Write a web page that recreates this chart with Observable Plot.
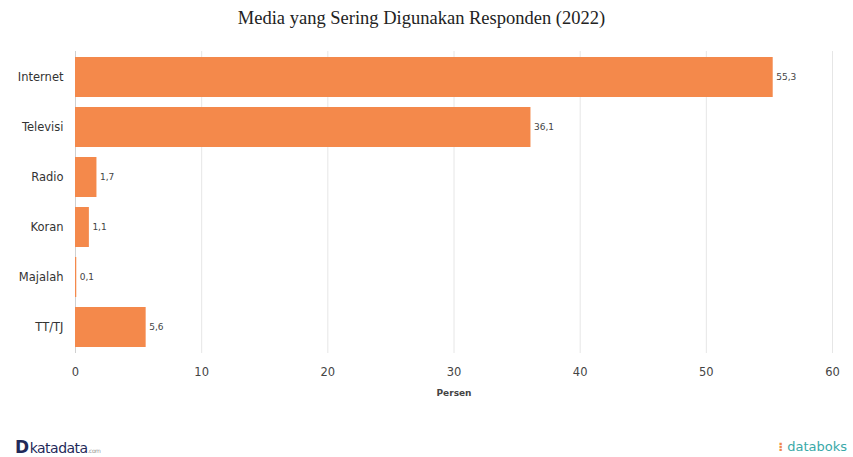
<!DOCTYPE html>
<html>
<head>
<meta charset="utf-8">
<script src="https://cdn.jsdelivr.net/npm/d3@7"></script>
<script src="https://cdn.jsdelivr.net/npm/@observablehq/plot@0.6"></script>
<style>
  body { margin: 0; background: #fff; width: 853px; height: 457px; position: relative; overflow: hidden; }
  #title { height: 37px; line-height: 37px; text-align: center; font-family: "Liberation Serif", serif; font-size: 18.5px; color: #222; padding-right: 10px; }
  #footer-left { position: absolute; left: 15px; top: 437px; font-family: "DejaVu Sans", sans-serif; font-size: 14px; color: #1f2a5a; letter-spacing: -0.5px; }
  #footer-left b { font-size: 17px; font-weight: 900; margin-right: 1px; }
  #footer-left small { font-size: 6px; color: #999; }
  #footer-right { position: absolute; right: 6px; top: 439px; font-family: "DejaVu Sans", sans-serif; font-size: 13px; color: #3aa9a8; }
  #footer-right span { color: #f08a4b; font-weight: bold; }
</style>
</head>
<body>
<div id="title">Media yang Sering Digunakan Responden (2022)</div>
<div id="chart"></div>
<div id="footer-left"><b>D</b>katadata<small>.com</small></div>
<div id="footer-right"><span>⁝</span> databoks</div>
<script>
const categories = ["Internet", "Televisi", "Radio", "Koran", "Majalah", "TT/TJ"];
const values = [55.3, 36.1, 1.7, 1.1, 0.1, 5.6];
const xTicks = [0, 10, 20, 30, 40, 50, 60];

const data = categories.map((c, i) => ({ media: c, value: values[i] }));
const fmt = v => String(v).replace(".", ",");

const chart = Plot.plot({
  width: 853,
  height: 373,
  marginTop: 14,
  marginBottom: 57,
  marginLeft: 75,
  marginRight: 21,
  style: { fontFamily: "DejaVu Sans, sans-serif", fontSize: "10.5px", color: "#333", background: "#fff" },
  x: { domain: [0, 60], ticks: xTicks, label: "Persen", labelAnchor: "center", labelArrow: "none", labelOffset: 42 },
  y: { domain: categories, label: null, paddingInner: 0.2, paddingOuter: 0.1 },
  marks: [
    Plot.gridX(xTicks.slice(1), { stroke: "#e6e6e6", strokeOpacity: 1 }),
    Plot.ruleX([0], { stroke: "#d0d0d0" }),
    Plot.barX(data, { x: "value", y: "media", fill: "#f4894b" }),
    Plot.text(data, { x: "value", y: "media", text: d => fmt(d.value), textAnchor: "start", dx: 3, fontSize: 9, fill: "#444" }),
    Plot.axisX({ ticks: xTicks, tickSize: 0, tickPadding: 14, fontSize: 11.5, fill: "#444", label: "Persen", labelAnchor: "center", labelArrow: "none", labelOffset: 42 }),
    Plot.axisY({ tickSize: 0, tickPadding: 12, fontSize: 11.5, fill: "#333", label: null })
  ]
});
document.getElementById("chart").appendChild(chart);
chart.querySelectorAll("g[aria-label='x-axis label'] text, g[aria-label='x-axis label']").forEach(e => { e.setAttribute("font-weight", "bold"); e.setAttribute("font-size", "9"); });
</script>
</body>
</html>
